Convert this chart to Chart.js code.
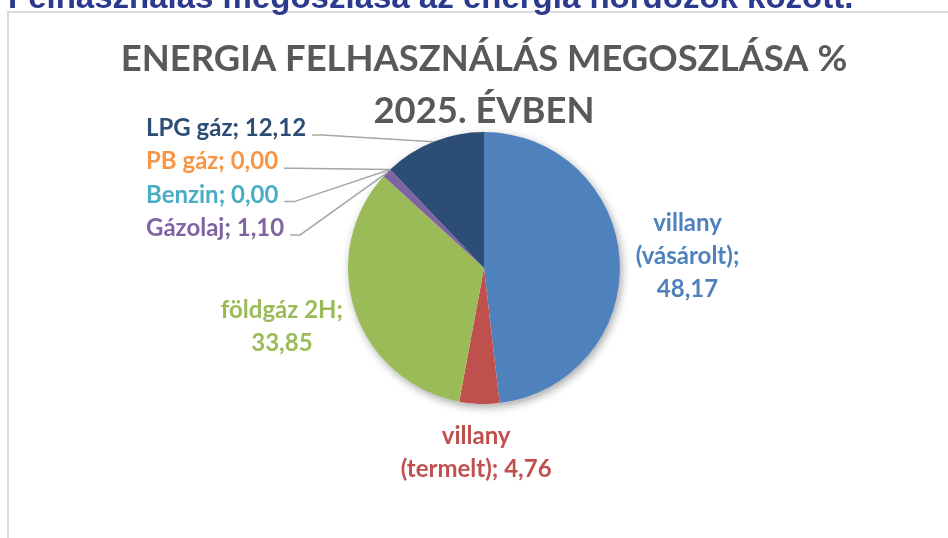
<!DOCTYPE html>
<html>
<head>
<meta charset="utf-8">
<script src="https://cdn.jsdelivr.net/npm/chart.js@4.4.1/dist/chart.umd.min.js"></script>
<style>
  html, body { margin: 0; padding: 0; background: #fff; }
  #wrap { position: relative; width: 948px; height: 538px; overflow: hidden; }
  #frame { position: absolute; left: 7px; top: 11px; right: -10px; bottom: -10px;
           border-top: 2px solid #D9D9D9; border-left: 2px solid #D9D9D9; }
  #chart { position: absolute; left: 0; top: 0; }
</style>
</head>
<body>
<div id="wrap">
  <div id="frame"></div>
  <canvas id="chart" width="948" height="538"></canvas>
</div>
<script>
const bannerText = 'Felhasználás megoszlása az energia hordozók között.';
const titleLines = ['ENERGIA FELHASZNÁLÁS MEGOSZLÁSA %', '2025. ÉVBEN'];
const categories = ['villany (vásárolt)', 'villany (termelt)', 'földgáz 2H', 'Gázolaj', 'Benzin', 'PB gáz', 'LPG gáz'];
const shares = [48.17, 4.76, 33.85, 1.10, 0.00, 0.00, 12.12];
const sliceColors = ['#4F81BD', '#C0504D', '#9BBB59', '#8064A2', '#4BACC6', '#F79646', '#2C4D75'];

const fmt = v => v.toFixed(2).replace('.', ',');
const labelFont = 'bold 24px Lato';
const titleFont = 'bold 36.4px Lato';

function wrapText(ctx, text, maxW) {
    const words = text.split(' ');
    const lines = [];
    let cur = '';
    words.forEach(w => {
        const test = cur ? cur + ' ' + w : w;
        if (cur && ctx.measureText(test).width > maxW) {
            lines.push(cur);
            cur = w;
        } else {
            cur = test;
        }
    });
    if (cur) lines.push(cur);
    return lines;
}

const calloutPlugin = {
    id: 'callouts',
    beforeDatasetsDraw(chart) {
        // soft shadow under the pie
        const arc = chart.getDatasetMeta(0).data[0];
        const ctx = chart.ctx;
        ctx.save();
        ctx.shadowColor = 'rgba(0,0,0,0.35)';
        ctx.shadowBlur = 9;
        ctx.shadowOffsetX = 2;
        ctx.shadowOffsetY = 3;
        ctx.beginPath();
        ctx.arc(arc.x, arc.y, arc.outerRadius, 0, Math.PI * 2);
        ctx.fillStyle = '#ffffff';
        ctx.fill();
        ctx.restore();
    },
    afterDatasetsDraw(chart) {
        const ctx = chart.ctx;
        const meta = chart.getDatasetMeta(0);
        ctx.save();

        // banner, cut by the top of the page
        ctx.font = 'bold 33px "Liberation Sans"';
        ctx.fillStyle = '#2B3A8F';
        ctx.textAlign = 'left';
        ctx.textBaseline = 'alphabetic';
        ctx.fillText(bannerText, 8, 8, 854);

        // title
        ctx.font = titleFont;
        ctx.fillStyle = '#595959';
        ctx.textAlign = 'center';
        ctx.fillText(titleLines[0], 484, 71);
        ctx.fillText(titleLines[1], 484, 123);

        const callouts = [];
        ctx.font = labelFont;
        meta.data.forEach((arc, i) => {
            const mid = (arc.startAngle + arc.endAngle) / 2;
            const dx = Math.cos(mid), dy = Math.sin(mid);
            const text = categories[i] + '; ' + fmt(shares[i]);
            if (mid > Math.PI && mid < Math.PI * 1.5) {
                callouts.push({ i, mid, text,
                    ex: arc.x + arc.outerRadius * dx, ey: arc.y + arc.outerRadius * dy });
                return;
            }
            const lines = wrapText(ctx, text, 155);
            const lineH = 33;
            const w = Math.max(...lines.map(l => ctx.measureText(l).width));
            const h = lines.length * lineH;
            const r = arc.outerRadius + 16;
            const cx = arc.x + r * dx + (w / 2) * dx;
            const cy = arc.y + r * dy + (h / 2) * dy;
            ctx.fillStyle = sliceColors[i];
            ctx.textAlign = 'center';
            lines.forEach((l, k) => {
                ctx.fillText(l, cx, cy - h / 2 + lineH * (k + 0.5) + 8);
            });
        });

        // stacked callouts in the upper left with leader lines
        callouts.sort((a, b) => (b.mid - a.mid) || (b.i - a.i));
        callouts.forEach((c, k) => {
            const base = 136 + k * 33.3;
            ctx.fillStyle = sliceColors[c.i];
            ctx.textAlign = 'left';
            ctx.fillText(c.text, 146, base);
            const end = 146 + ctx.measureText(c.text).width;
            ctx.strokeStyle = '#A6A6A6';
            ctx.lineWidth = 1.5;
            ctx.beginPath();
            ctx.moveTo(end + 6, base - 1);
            ctx.lineTo(end + 16, base - 1);
            ctx.lineTo(c.ex, c.ey);
            ctx.stroke();
        });
        ctx.restore();
    }
};

const ctx = document.getElementById('chart');
new Chart(ctx, {
    type: 'pie',
    data: {
        labels: categories,
        datasets: [{
            data: shares,
            backgroundColor: sliceColors,
            borderWidth: 0,
            hoverOffset: 0
        }]
    },
    options: {
        responsive: false,
        animation: false,
        events: [],
        layout: { padding: { top: 132, bottom: 134, left: 348, right: 328 } },
        plugins: {
            legend: { display: false },
            tooltip: { enabled: false }
        }
    },
    plugins: [calloutPlugin]
});
</script>
</body>
</html>
